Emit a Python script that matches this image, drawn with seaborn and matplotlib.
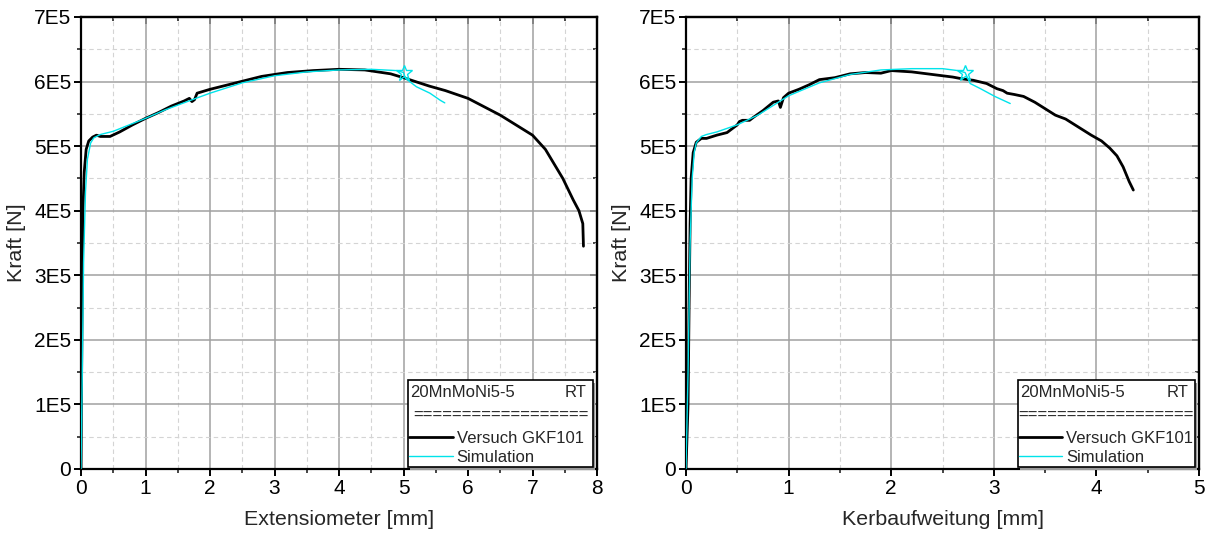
import matplotlib.pyplot as plt
import matplotlib.ticker as mticker
from matplotlib.patches import Rectangle
import seaborn as sns
import pandas as pd

""" Force-displacement curves, test vs. simulation """

# Left panel: Extensiometer [mm] vs. Kraft [1E5 N]
ext_test_x = [0, 0.01, 0.02, 0.03, 0.05, 0.08, 0.12, 0.18, 0.24, 0.3, 0.45, 0.6, 0.8, 1.0,
              1.2, 1.4, 1.6, 1.68, 1.72, 1.76, 1.8, 2.0, 2.4, 2.8, 3.2, 3.6, 4.0, 4.4, 4.8,
              5.0, 5.4, 5.65, 6.0, 6.5, 7.0, 7.2, 7.47, 7.63, 7.72, 7.78, 7.79]
ext_test_f = [0, 1.5, 3.0, 4.0, 4.6, 4.95, 5.08, 5.14, 5.17, 5.15, 5.15, 5.22, 5.33, 5.43,
              5.52, 5.62, 5.70, 5.74, 5.69, 5.72, 5.82, 5.88, 5.98, 6.08, 6.14, 6.17, 6.19,
              6.18, 6.12, 6.06, 5.93, 5.86, 5.74, 5.48, 5.17, 4.95, 4.50, 4.17, 4.0, 3.80, 3.45]
ext_sim_x = [0, 0.02, 0.04, 0.07, 0.1, 0.15, 0.2, 0.3, 0.5, 0.8, 1.0, 1.3, 1.7, 2.0, 2.5,
             3.0, 3.5, 4.0, 4.5, 4.9, 5.0, 5.03, 5.2, 5.41, 5.57, 5.64]
ext_sim_f = [0, 1.5, 3.2, 4.3, 4.8, 5.05, 5.13, 5.18, 5.23, 5.35, 5.43, 5.56, 5.71, 5.82,
             5.98, 6.09, 6.15, 6.18, 6.19, 6.17, 6.14, 6.05, 5.92, 5.82, 5.71, 5.67]
ext_star = (5.0, 6.14)

# Right panel: Kerbaufweitung [mm] vs. Kraft [1E5 N]
kerb_test_x = [0, 0.02, 0.03, 0.04, 0.05, 0.07, 0.1, 0.15, 0.2, 0.3, 0.4, 0.5, 0.52, 0.55,
               0.62, 0.66, 0.75, 0.85, 0.9, 0.92, 0.95, 1.0, 1.1, 1.2, 1.3, 1.45, 1.6, 1.75,
               1.9, 2.0, 2.1, 2.2, 2.35, 2.5, 2.6, 2.7, 2.8, 2.93, 3.03, 3.09, 3.13, 3.2,
               3.29, 3.4, 3.52, 3.6, 3.7, 3.84, 3.95, 4.05, 4.13, 4.2, 4.26, 4.32, 4.36]
kerb_test_f = [0, 1.0, 2.5, 3.8, 4.5, 4.9, 5.06, 5.12, 5.12, 5.17, 5.21, 5.33, 5.38, 5.40,
               5.40, 5.45, 5.55, 5.68, 5.70, 5.60, 5.75, 5.82, 5.88, 5.95, 6.03, 6.06, 6.12,
               6.14, 6.13, 6.17, 6.16, 6.15, 6.12, 6.09, 6.07, 6.04, 6.02, 5.97, 5.89, 5.86,
               5.82, 5.80, 5.77, 5.68, 5.56, 5.48, 5.42, 5.28, 5.17, 5.08, 4.97, 4.85, 4.68,
               4.45, 4.32]
kerb_sim_x = [0, 0.02, 0.04, 0.06, 0.08, 0.1, 0.15, 0.2, 0.3, 0.5, 0.7, 1.0, 1.3, 1.6, 1.9,
              2.2, 2.5, 2.65, 2.72, 2.77, 2.87, 3.01, 3.16]
kerb_sim_f = [0, 1.5, 3.5, 4.5, 4.9, 5.05, 5.15, 5.18, 5.22, 5.33, 5.48, 5.78, 5.98, 6.11,
              6.18, 6.20, 6.20, 6.17, 6.14, 5.97, 5.89, 5.77, 5.66]
kerb_star = (2.72, 6.14)

legend_title = "20MnMoNi5-5"
legend_temp = "RT"
label_test = "Versuch GKF101"
label_sim = "Simulation"

CYAN = '#00e3ea'

sns.set_style("ticks")
plt.rcParams['font.family'] = ['Liberation Sans', 'DejaVu Sans']


def force_fmt(v, pos):
    if abs(v) < 1:
        return "0"
    return f"{int(round(v / 1e5))}E5"


def set_locators(axis, major, minor):
    axis.set_major_locator(mticker.MultipleLocator(major))
    axis.set_minor_locator(mticker.MultipleLocator(minor))


def draw_panel(ax, tx, tf, sx, sf, star, xmax, xlabel, box_left):
    test = pd.DataFrame({"x": tx, "F": [f * 1e5 for f in tf]})
    sim = pd.DataFrame({"x": sx, "F": [f * 1e5 for f in sf]})

    sns.lineplot(data=test, x="x", y="F", sort=False, estimator=None,
                 color="black", linewidth=2.0, label=label_test, ax=ax, zorder=3)
    sns.lineplot(data=sim, x="x", y="F", sort=False, estimator=None,
                 color=CYAN, linewidth=1.0, label=label_sim, ax=ax, zorder=4)
    ax.plot([star[0]], [star[1] * 1e5], marker='*', markersize=12, markerfacecolor='none',
            markeredgecolor=CYAN, markeredgewidth=1.0, linestyle='none', zorder=5)

    ax.set_xlim(0, xmax)
    ax.set_ylim(0, 7e5)
    set_locators(ax.xaxis, 1, 0.5)
    set_locators(ax.yaxis, 1e5, 0.5e5)
    ax.yaxis.set_major_formatter(mticker.FuncFormatter(force_fmt))

    # grid: solid major, dashed minor
    ax.grid(which='major', color='#a0a0a0', linewidth=1.1, linestyle='-', zorder=0)
    ax.grid(which='minor', color='#d4d4d4', linewidth=0.8, linestyle=(0, (4, 3)), zorder=0)
    ax.set_axisbelow(True)

    for sp in ax.spines.values():
        sp.set_visible(True)
        sp.set_color('black')
        sp.set_linewidth(1.6)
    ax.tick_params(which='major', direction='out', length=5, width=1.4,
                   labelsize=15, colors='black', pad=2)
    ax.tick_params(which='minor', direction='out', length=3, width=1.2)

    # inward ticks on top and right, no labels
    top = ax.secondary_xaxis('top')
    set_locators(top.xaxis, 1, 0.5)
    top.tick_params(which='major', direction='in', length=5, width=1.4, labeltop=False)
    top.tick_params(which='minor', direction='in', length=3, width=1.2)
    right = ax.secondary_yaxis('right')
    set_locators(right.yaxis, 1e5, 0.5e5)
    right.tick_params(which='major', direction='in', length=5, width=1.4, labelright=False)
    right.tick_params(which='minor', direction='in', length=3, width=1.2)
    for sec in (top, right):
        for sp in sec.spines.values():
            sp.set_linewidth(1.6)

    ax.set_xlabel(xlabel, fontsize=15.4, labelpad=9)
    ax.set_ylabel("Kraft [N]", fontsize=15.4, labelpad=6)

    # legend box in Origin style
    box_right = 0.992
    box_bottom = 0.004
    box_top = 0.197
    ax.add_patch(Rectangle((box_left + 0.004, box_bottom - 0.006), box_right - box_left,
                           box_top - box_bottom, transform=ax.transAxes,
                           facecolor='#9a9a9a', edgecolor='none', zorder=6, clip_on=False))
    ax.add_patch(Rectangle((box_left, box_bottom), box_right - box_left,
                           box_top - box_bottom, transform=ax.transAxes,
                           facecolor='white', edgecolor='black', linewidth=1.2, zorder=7,
                           clip_on=False))
    ax.text(box_left + 0.004, 0.170, legend_title, transform=ax.transAxes, fontsize=12,
            ha='left', va='center', zorder=8)
    ax.text(box_right - 0.012, 0.170, legend_temp, transform=ax.transAxes, fontsize=12,
            ha='right', va='center', zorder=8)
    ax.text((box_left + box_right) / 2, 0.119, "=" * 18, transform=ax.transAxes,
            fontsize=12, ha='center', va='center', zorder=8)
    leg = ax.legend(loc='upper left', bbox_to_anchor=(box_left + 0.002, 0.084),
                    frameon=False, fontsize=12, handlelength=2.6, handletextpad=0.25,
                    borderpad=0, borderaxespad=0, labelspacing=0.24)
    leg.set_zorder(9)


fig = plt.figure(figsize=(12.08, 5.33), dpi=100)
fig.set_facecolor('white')
ax1 = fig.add_axes([81 / 1208, 64 / 533, 516 / 1208, 452 / 533])
ax2 = fig.add_axes([686 / 1208, 64 / 533, 513 / 1208, 452 / 533])

draw_panel(ax1, ext_test_x, ext_test_f, ext_sim_x, ext_sim_f, ext_star, 8,
           "Extensiometer [mm]", 0.634)
draw_panel(ax2, kerb_test_x, kerb_test_f, kerb_sim_x, kerb_sim_f, kerb_star, 5,
           "Kerbaufweitung [mm]", 0.647)

plt.savefig('out.png', dpi=100)
